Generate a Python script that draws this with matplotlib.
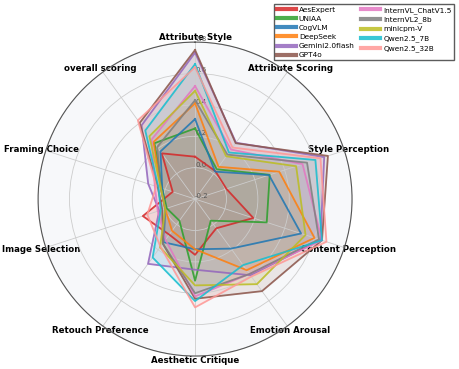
import numpy as np
import matplotlib
matplotlib.use("Agg")
import matplotlib.pyplot as plt
from matplotlib.lines import Line2D

categories = ['Attribute Style', 'Attribute Scoring', 'Style Perception', 'Content Perception',
              'Emotion Arousal', 'Aesthetic Critique', 'Retouch Preference', 'Image Selection',
              'Framing Choice', 'overall scoring']

models = ['AesExpert', 'UNIAA', 'CogVLM', 'DeepSeek', 'Gemini2.0flash', 'GPT4o',
          'InternVL_ChatV1.5', 'InternVL2_8b', 'minicpm-V', 'Qwen2.5_7B', 'Qwen2.5_32B']

aesexpert = [0.07, 0.02, 0.01, 0.19, 0.03, 0.155, 0.08, 0.15, -0.05, 0.16]
uniaa = [0.25, 0.035, 0.30, 0.28, -0.03, 0.32, -0.03, -0.01, 0.02, 0.24]
cogvlm = [0.31, 0.016, 0.295, 0.51, 0.19, 0.12, 0.14, 0.0, 0.02, 0.175]
deepseek = [0.41, 0.054, 0.364, 0.60, 0.36, 0.12, 0.05, 0.0, 0.03, 0.25]
gemini = [0.733, 0.244, 0.665, 0.64, 0.40, 0.25, 0.31, 0.04, 0.114, 0.38]
gpt4o = [0.75, 0.24, 0.69, 0.65, 0.525, 0.435, 0.15, 0.02, 0.05, 0.40]
internvl_chat = [0.52, 0.19, 0.52, 0.65, 0.39, 0.42, 0.12, 0.05, 0.07, 0.27]
internvl2 = [0.43, 0.15, 0.55, 0.63, 0.39, 0.40, 0.15, 0.0, 0.03, 0.21]
minicpm = [0.49, 0.137, 0.477, 0.54, 0.47, 0.35, 0.18, 0.0, 0.03, 0.295]
qwen7b = [0.66, 0.167, 0.606, 0.65, 0.32, 0.45, 0.26, 0.03, 0.046, 0.34]
qwen32b = [0.64, 0.206, 0.64, 0.68, 0.41, 0.49, 0.175, 0.12, 0.06, 0.42]

scores = [aesexpert, uniaa, cogvlm, deepseek, gemini, gpt4o,
          internvl_chat, internvl2, minicpm, qwen7b, qwen32b]

colors = ['#d62728', '#2ca02c', '#1f77b4', '#ff7f0e', '#9467bd', '#8c564b',
          '#e377c2', '#7f7f7f', '#bcbd22', '#17becf', '#ff9896']

r_ticks = [-0.2, 0.0, 0.2, 0.4, 0.6, 0.8]

# angulos do radar (sentido horario a partir do topo)
n = len(categories)
angles = np.linspace(0, 2 * np.pi, n, endpoint=False).tolist()
angles_closed = angles + angles[:1]

fig = plt.figure(figsize=(4.59, 3.69), dpi=100)
ax = fig.add_axes([0.083, 0.035, 0.684, 0.851], projection='polar')
ax.set_theta_offset(np.pi / 2)
ax.set_theta_direction(-1)
ax.set_facecolor('#f7f8fa')

for name, vals, c in zip(models, scores, colors):
    v = vals + vals[:1]
    ax.plot(angles_closed, v, color=c, linewidth=1.3, alpha=0.85)
    ax.fill(angles_closed, v, color=c, alpha=0.12)

ax.set_ylim(-0.2, 0.8)
ax.set_yticks(r_ticks)
ax.set_yticklabels([f'{t:.1f}' for t in r_ticks], fontsize=5, color='#555555')
ax.set_rlabel_position(0)

ax.set_xticks(angles)
ax.set_xticklabels(categories, fontsize=6.2, fontweight='bold')
ax.tick_params(axis='x', pad=-7)
ax.grid(True, color='#cccccc', linewidth=0.6)
ax.spines['polar'].set_color('#555555')
ax.spines['polar'].set_linewidth(0.8)

handles = [Line2D([0], [0], color=c, linewidth=3, alpha=0.85) for c in colors]
fig.legend(handles, models, loc='upper right', bbox_to_anchor=(0.997, 0.998), ncol=2,
           fontsize=5.3, frameon=True, edgecolor='#333333', fancybox=False,
           handlelength=2.6, labelspacing=0.4, columnspacing=0.9, borderpad=0.3,
           handletextpad=0.4)

fig.savefig('out.png', dpi=100)
